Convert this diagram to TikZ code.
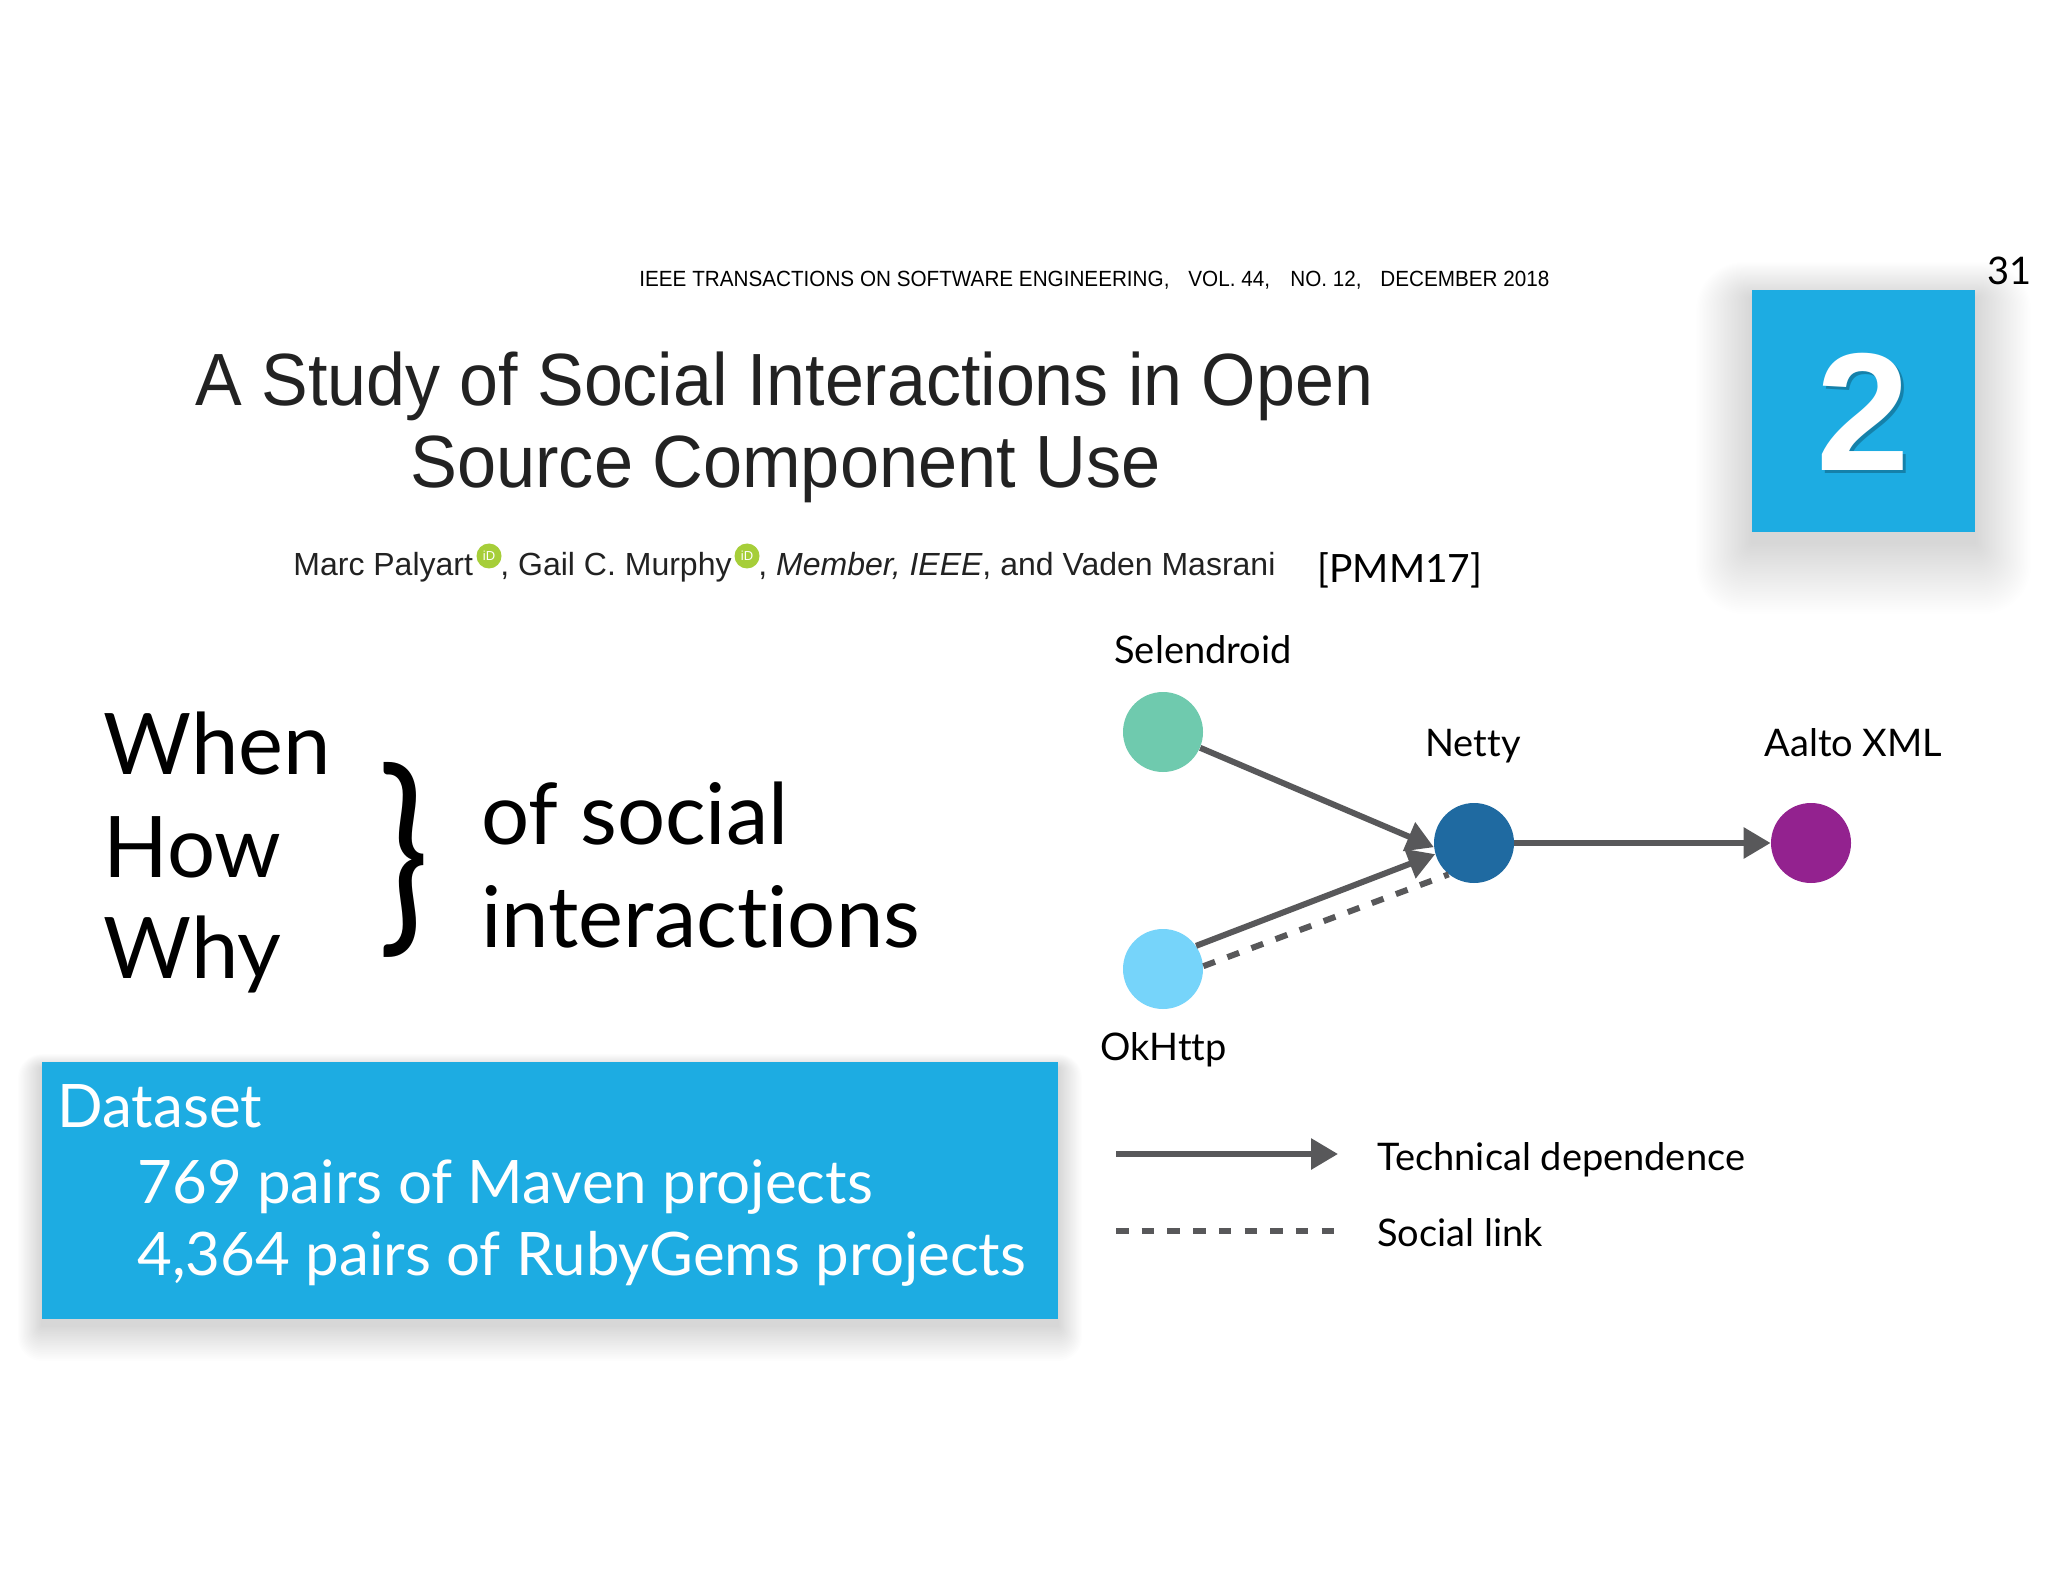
\documentclass[tikz,border=0pt]{standalone}
\usepackage{fontspec}
\setmainfont{Lato}[Ligatures=NoCommon]
\newfontfamily\arial{Liberation Sans}
\usetikzlibrary{arrows.meta}
\definecolor{boxblue}{RGB}{29,172,226}
\definecolor{edgegray}{RGB}{88,88,90}
\definecolor{titlegray}{RGB}{34,34,34}
\definecolor{orcid}{RGB}{166,206,57}
\definecolor{cSel}{RGB}{111,202,174}
\definecolor{cNetty}{RGB}{31,106,161}
\definecolor{cAalto}{RGB}{147,34,143}
\definecolor{cOk}{RGB}{118,212,250}
\tikzset{
  txt/.style={inner sep=0pt, anchor=base west},
  hdr/.style={txt, font=\arial\fontsize{11pt}{13pt}\selectfont},
  ttl/.style={txt, text=titlegray, font=\arial\fontsize{37pt}{44pt}\selectfont},
  auth/.style={txt, text=titlegray, font=\arial\fontsize{16pt}{19pt}\selectfont},
  orcidicon/.style={circle, fill=orcid, minimum size=12.5pt, inner sep=0pt,
     font=\arial\fontsize{6.5pt}{7pt}\selectfont, text=white},
  big/.style={txt, font=\fontsize{42.5pt}{50pt}\selectfont},
  dstext/.style={txt, text=white, font=\fontsize{30pt}{36pt}\selectfont},
  gnode/.style={circle, minimum size=40pt, inner sep=0pt, draw=none},
  glabel/.style={txt, font=\fontsize{19pt}{22pt}\selectfont},
  techdep/.style={draw=edgegray, line width=3pt, -{Triangle[length=13.5pt,width=15pt]}},
  sociallink/.style={draw=edgegray, line width=3pt, dash pattern=on 6.25pt off 6.6pt},
  bluebox/.style={fill=boxblue, draw=none},
  shadowlayer/.style={fill=black, fill opacity=#1, draw=none},
  shadowlayer/.default=0.006,
}
\begin{document}
\begin{tikzpicture}[x=0.5pt,y=-0.5pt]
\useasboundingbox (0,0) rectangle (2048,1582);
\fill[white] (0,0) rectangle (2048,1582);

% header
\node[hdr] (h1) at (639,287) {\scalebox{0.94}[1]{IEEE TRANSACTIONS ON SOFTWARE ENGINEERING,}};
\node[hdr] (h2) at (1188,287) {\scalebox{0.94}[1]{VOL. 44,}};
\node[hdr] (h3) at (1290,287) {\scalebox{0.94}[1]{NO. 12,}};
\node[hdr] (h4) at (1380,287) {\scalebox{0.94}[1]{DECEMBER 2018}};

% title
\node[ttl] (t1) at (195,406) {\scalebox{0.945}[1]{A Study of Social Interactions in Open}};
\node[ttl] (t2) at (410,488) {\scalebox{0.95}[1]{Source Component Use}};

% authors
\node[auth] (a1) at (293,575) {Marc Palyart};
\node[orcidicon] (o1) at (489,556) {iD};
\node[auth] (a2) at (500,575) {, Gail C. Murphy};
\node[orcidicon] (o2) at (747,556) {iD};
\node[auth] (a3) at (758,575) {, \textit{Member, IEEE}, and Vaden Masrani};
\node[txt, font=\fontsize{19.5pt}{24pt}\selectfont] (ref) at (1317,582) {[PMM17]};

% slide number and badge
\node[txt, font=\fontsize{19pt}{22pt}\selectfont] (num) at (1987,285) {31};
\foreach \s in {2,4,...,80} {
  \fill[shadowlayer=0.0055, rounded corners=0.3*\s pt] (1752-\s*0.7,290-\s*0.45+8) rectangle (1975+\s*0.7,532+\s*0.9+10);
}
\node[bluebox, minimum width=111.5pt, minimum height=121pt, inner sep=0pt] (badge) at (1863.5,411) {};
\node[text=black!55!boxblue, opacity=0.45, font=\arial\bfseries\fontsize{84pt}{90pt}\selectfont, inner sep=0pt] (twoshadow) at (1866,415) {2};
\node[text=white, font=\arial\bfseries\fontsize{84pt}{90pt}\selectfont, inner sep=0pt] (two) at (1863,412) {2};

% when how why
\node[big] (when) at (103,774) {When};
\node[big] (how) at (103,877) {How};
\node[big] (why) at (103,978) {Why};
\node[inner sep=0pt, anchor=north west] (brace) at (378,762) {\resizebox*{25.5pt}{97.5pt}{\}}};
\node[big] (ofs) at (481,844) {of social};
\node[big] (inter) at (481,947) {interactions};

% dataset box
\foreach \s in {2,4,...,40} {
  \fill[shadowlayer=0.009, rounded corners=0.3*\s pt] (42-\s*0.6,1062-\s*0.35+6) rectangle (1058+\s*0.6,1319+\s*0.9+6);
}
\fill[bluebox] (42,1062) rectangle (1058,1319);
\node[dstext] (ds) at (57,1127) {Dataset};
\node[dstext] (ds1) at (137,1203) {769 pairs of Maven projects};
\node[dstext] (ds2) at (137,1275) {4,364 pairs of RubyGems projects};

% graph
\node[gnode, fill=cSel] (sel) at (1163,732) {};
\node[gnode, fill=cNetty] (netty) at (1474,843) {};
\node[gnode, fill=cAalto] (aalto) at (1811,843) {};
\node[gnode, fill=cOk] (ok) at (1163,969) {};
\node[glabel] (lsel) at (1114,663) {Selendroid};
\node[glabel] (lnetty) at (1425,756) {Netty};
\node[glabel] (laalto) at (1764,756) {Aalto XML};
\node[glabel] (lok) at (1100,1060) {OkHttp};

\draw[sociallink] (ok.4) -- (netty.231);
\draw[techdep] (sel) -- (netty.186);
\draw[techdep] (ok.35) -- (netty.196);
\draw[techdep] (netty) -- (aalto);

% legend
\coordinate (lg1a) at (1116,1154);
\coordinate (lg1b) at (1338,1154);
\coordinate (lg2a) at (1116,1231);
\coordinate (lg2b) at (1335,1231);
\draw[techdep] (lg1a) -- (lg1b);
\draw[sociallink] (lg2a) -- (lg2b);
\node[glabel] (ltech) at (1377,1170) {Technical dependence};
\node[glabel] (lsoc) at (1377,1246) {Social link};
\end{tikzpicture}
\end{document}
